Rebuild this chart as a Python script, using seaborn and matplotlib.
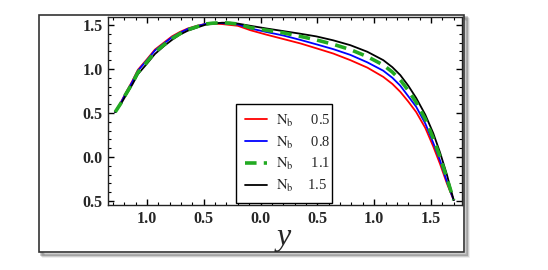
import numpy as np
import pandas as pd
import matplotlib
matplotlib.use("Agg")
import matplotlib.pyplot as plt
from matplotlib.patches import Rectangle
from matplotlib.ticker import MultipleLocator, FixedLocator, FixedFormatter
import seaborn as sns

# ---- data ----
y_pos = [-1.28, -1.23, -1.19, -1.13, -1.08, -1.00, -0.93, -0.85, -0.78, -0.71,
         -0.64, -0.56, -0.49, -0.42, -0.34, -0.27, -0.20, -0.09, 0.05, 0.20,
         0.35, 0.49, 0.64, 0.79, 0.94, 1.08, 1.16, 1.23, 1.30, 1.37,
         1.45, 1.52, 1.58, 1.64, 1.70]
nb_05 = [0.51, 0.62, 0.72, 0.86, 0.99, 1.11, 1.22, 1.30, 1.37, 1.42,
         1.46, 1.49, 1.51, 1.515, 1.51, 1.50, 1.49, 1.44, 1.39, 1.34,
         1.29, 1.235, 1.175, 1.10, 1.015, 0.91, 0.83, 0.74, 0.63, 0.51,
         0.33, 0.12, -0.08, -0.30, -0.49]
nb_08 = [0.51, 0.615, 0.715, 0.85, 0.98, 1.10, 1.21, 1.29, 1.36, 1.41,
         1.455, 1.485, 1.51, 1.52, 1.52, 1.515, 1.505, 1.46, 1.42, 1.38,
         1.33, 1.28, 1.225, 1.16, 1.075, 0.98, 0.90, 0.81, 0.69, 0.57,
         0.38, 0.16, -0.04, -0.28, -0.49]
nb_11 = [0.51, 0.61, 0.705, 0.835, 0.96, 1.08, 1.19, 1.275, 1.345, 1.40,
         1.445, 1.48, 1.51, 1.52, 1.525, 1.52, 1.51, 1.47, 1.44, 1.41,
         1.37, 1.33, 1.28, 1.22, 1.14, 1.045, 0.965, 0.875, 0.755, 0.62,
         0.43, 0.21, 0.00, -0.24, -0.49]
nb_15 = [0.51, 0.60, 0.69, 0.82, 0.94, 1.06, 1.17, 1.26, 1.33, 1.39,
         1.435, 1.47, 1.50, 1.515, 1.525, 1.525, 1.515, 1.49, 1.46, 1.43,
         1.40, 1.37, 1.325, 1.27, 1.195, 1.10, 1.02, 0.93, 0.81, 0.67,
         0.48, 0.27, 0.05, -0.20, -0.49]

nb_values = ["0.5", "0.8", "1.1", "1.5"]
series = [nb_05, nb_08, nb_11, nb_15]

x_ticks = [-1.0, -0.5, 0.0, 0.5, 1.0, 1.5]
x_ticklabels = ["1.0", "0.5", "0.0", "0.5", "1.0", "1.5"]
y_ticks = [1.5, 1.0, 0.5, 0.0, -0.5]
y_ticklabels = ["1.5", "1.0", "0.5", "0.0", "0.5"]
x_label = "y"

# ---- style ----
sns.set_theme(style="white")
plt.rcParams["font.family"] = ["Liberation Serif", "DejaVu Serif"]
plt.rcParams["mathtext.fontset"] = "stix"

W, H = 548, 270
fig = plt.figure(figsize=(W / 100, H / 100), dpi=100)
fig.patch.set_facecolor("white")

def fx(px):
    return px / W

def fy(py):
    return 1 - py / H

# outer frame with soft shadow
for i, a in enumerate([0.08, 0.14, 0.22]):
    off = 4 - i
    fig.patches.append(Rectangle((fx(39 + off), fy(252 + off)), fx(464 - 39), (252 - 15) / H,
                                 transform=fig.transFigure, facecolor="none",
                                 edgecolor=(0, 0, 0, a), linewidth=2.0, zorder=0))
fig.patches.append(Rectangle((fx(39), fy(252)), fx(464 - 39), (252 - 15) / H,
                             transform=fig.transFigure, facecolor="white",
                             edgecolor="#333333", linewidth=1.2, zorder=0.5))

ax = fig.add_axes([fx(108), fy(205), fx(462 - 108), (205 - 17) / H])
ax.set_facecolor("white")
ax.set_zorder(2)

df = pd.DataFrame({
    "y": np.tile(y_pos, 4),
    "val": np.concatenate(series),
    "Nb": np.repeat(nb_values, len(y_pos)),
})

colors = ["#ff0000", "#0000ff", "#22aa22", "#000000"]
styles = [dict(lw=1.3), dict(lw=1.3), dict(lw=2.6, dashes=(3.2, 2.0)), dict(lw=1.3)]
gaps = ["     ", "     ", "     ", "    "]
labels_txt = [r"$\mathrm{N_b}$" + g + v for g, v in zip(gaps, nb_values)]
order = [0, 1, 3, 2]
for k in order:
    sub = df[df["Nb"] == nb_values[k]]
    kw = styles[k]
    sns.lineplot(data=sub, x="y", y="val", ax=ax, color=colors[k], sort=False,
                 estimator=None, legend=False, linewidth=kw["lw"])
    ln = ax.get_lines()[-1]
    if "dashes" in kw:
        ln.set_dashes(kw["dashes"])
    ln.set_label(labels_txt[k])

ax.set_xlim(-1.343, 1.773)
ax.set_ylim(-0.545, 1.59)

ax.xaxis.set_major_locator(FixedLocator(x_ticks))
ax.xaxis.set_major_formatter(FixedFormatter(x_ticklabels))
ax.yaxis.set_major_locator(FixedLocator(y_ticks))
ax.yaxis.set_major_formatter(FixedFormatter(y_ticklabels))
ax.xaxis.set_minor_locator(MultipleLocator(0.1))
ax.yaxis.set_minor_locator(MultipleLocator(0.1))
ax.tick_params(which="both", direction="in", top=True, right=True, bottom=True, left=True,
               color="black")
ax.tick_params(which="major", length=4, width=1.0, labelsize=11.5, pad=4)
ax.tick_params(which="minor", length=2, width=0.8)
for lab in ax.get_xticklabels() + ax.get_yticklabels():
    lab.set_fontweight("bold")
for s in ax.spines.values():
    s.set_color("#222222")
    s.set_linewidth(1.0)

ax.set_xlabel("")
ax.set_ylabel("")
fig.text(fx(284), fy(238), x_label, fontsize=23, style="italic",
         ha="center", va="center", family=["Liberation Serif"])

handles, labels = ax.get_legend_handles_labels()
hl = dict(zip(labels, handles))
leg = ax.legend([hl[l] for l in labels_txt], labels_txt,
                loc="lower left", bbox_to_anchor=(0.362, 0.01, 0.271, 0.442),
                mode="expand", fontsize=10.5, frameon=True, fancybox=False,
                framealpha=1, edgecolor="black", handlelength=1.5,
                handletextpad=0.6, labelspacing=0.4, borderpad=0.6,
                borderaxespad=0)
leg.get_frame().set_linewidth(1.0)

fig.savefig("out.png", dpi=100, facecolor="white")
